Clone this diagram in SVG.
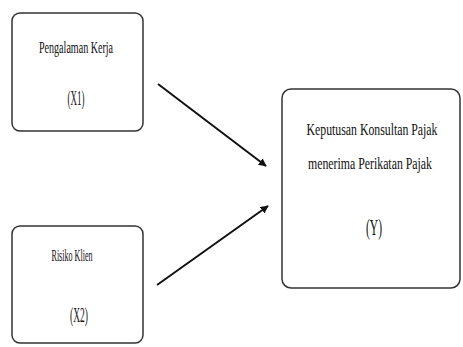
<svg xmlns="http://www.w3.org/2000/svg" width="463" height="347" viewBox="0 0 463 347">
<style>
.box{fill:#fff;stroke:#333;stroke-width:1.5}
.t{font-family:"Liberation Serif","DejaVu Serif",serif;font-size:12px;fill:#111;text-anchor:middle}
.n{font-size:14px}
.c{stroke:#111;stroke-width:2;fill:none}
</style>
<defs>
<marker id="ah" viewBox="0 0 10 10" refX="9" refY="5" markerWidth="4" markerHeight="4" orient="auto">
<path d="M0,0 L10,5 L0,10 z" fill="#111"/>
</marker>
</defs>
<rect width="463" height="347" fill="#fff"/>
<g id="x1">
<rect class="box" x="12" y="13" width="131" height="118" rx="8"/>
<text class="t" transform="translate(76,53) scale(1,1.4)" textLength="74" lengthAdjust="spacingAndGlyphs">Pengalaman Kerja</text>
<text class="t n" transform="translate(76,105) scale(1,1.5)" textLength="17" lengthAdjust="spacingAndGlyphs">(X1)</text>
</g>
<g id="x2">
<rect class="box" x="12" y="226" width="131" height="117" rx="8"/>
<text class="t" transform="translate(72,261) scale(1,1.4)" textLength="41" lengthAdjust="spacingAndGlyphs">Risiko Klien</text>
<text class="t n" transform="translate(79,322) scale(1,1.5)" textLength="18" lengthAdjust="spacingAndGlyphs">(X2)</text>
</g>
<g id="y">
<rect class="box" x="282" y="89" width="178" height="199" rx="9"/>
<text class="t" transform="translate(372,135) scale(1,1.4)" textLength="131" lengthAdjust="spacingAndGlyphs">Keputusan Konsultan Pajak</text>
<text class="t" transform="translate(370,169) scale(1,1.4)" textLength="124" lengthAdjust="spacingAndGlyphs">menerima Perikatan Pajak</text>
<text class="t n" transform="translate(374,235) scale(1,1.6)" textLength="16" lengthAdjust="spacingAndGlyphs">(Y)</text>
</g>
<g id="connectors">
<line class="c" x1="158" y1="84" x2="266" y2="166" marker-end="url(#ah)"/>
<line class="c" x1="157" y1="285" x2="268" y2="206" marker-end="url(#ah)"/>
</g>
</svg>
